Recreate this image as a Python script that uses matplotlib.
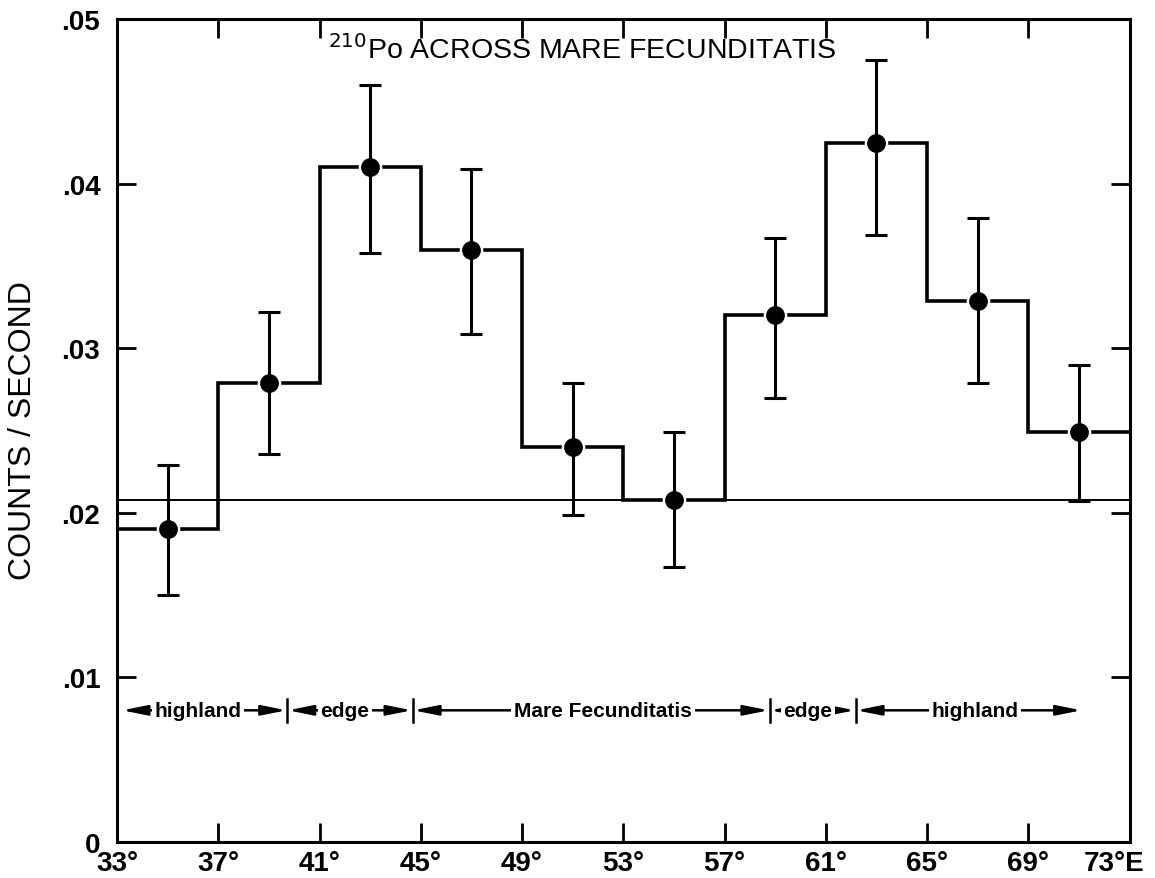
import numpy as np
import matplotlib
matplotlib.use("Agg")
import matplotlib.pyplot as plt
import matplotlib.transforms as mtransforms

plt.rcParams['font.family'] = ['Liberation Sans', 'DejaVu Sans']

# bins of longitude (deg E) and measured 210Po count rate
edges = [33, 37, 41, 45, 49, 53, 57, 61, 65, 69, 73]
centers = [35, 39, 43, 47, 51, 55, 59, 63, 67, 71]
counts = [0.0190, 0.0279, 0.0410, 0.0360, 0.0240, 0.0208, 0.0320, 0.0425, 0.0329, 0.0249]
err_low = [0.0150, 0.0236, 0.0358, 0.0309, 0.0199, 0.0167, 0.0270, 0.0369, 0.0279, 0.0207]
err_high = [0.0229, 0.0322, 0.0460, 0.0409, 0.0279, 0.0249, 0.0367, 0.0475, 0.0379, 0.0290]
background = 0.0208

xtick_vals = [33, 37, 41, 45, 49, 53, 57, 61, 65, 69, 73]
xtick_labels = ['33°', '37°', '41°', '45°', '49°', '53°', '57°', '61°', '65°', '69°', '73°E']
ytick_vals = [0, 0.01, 0.02, 0.03, 0.04, 0.05]
ytick_labels = ['0', '.01', '.02', '.03', '.04', '.05']

# region bar along the bottom
region_names = ['highland', 'edge', 'Mare Fecunditatis', 'edge', 'highland']
region_left = [33.2, 39.75, 44.7, 58.8, 62.2]
region_right = [39.7, 44.65, 58.75, 62.15, 71.1]
region_text_x = [36.2, 42.0, 52.2, 60.3, 66.9]
region_ticks = [39.72, 44.68, 58.78, 62.18]
region_y = 0.008

fig = plt.figure(figsize=(11.55, 8.79), dpi=100)
ax = fig.add_axes([0.1013, 0.041, 0.8767, 0.936])

# step histogram
ax.stairs(counts, edges, baseline=None, color='black', linewidth=2.6, zorder=2)
# background level
ax.axhline(background, color='black', linewidth=1.4, zorder=1)

# points with white halo, then error bars
yerr = [np.array(counts) - np.array(err_low), np.array(err_high) - np.array(counts)]
ax.plot(centers, counts, 'o', color='black', markersize=13,
        markeredgecolor='white', markeredgewidth=4, zorder=3)
ax.errorbar(centers, counts, yerr=yerr, fmt='o', color='black', markersize=12.5,
            elinewidth=2.2, capsize=8, capthick=2.2, zorder=4)

# region annotations
for name, l, r, tx in zip(region_names, region_left, region_right, region_text_x):
    ax.annotate('', xy=(l, region_y), xytext=(r, region_y),
                arrowprops=dict(arrowstyle='<|-|>,head_length=1.5,head_width=0.3',
                                color='black', lw=1.8, shrinkA=0, shrinkB=0))
    ax.text(tx, region_y, name, ha='center', va='center', fontsize=15,
            fontweight='bold', zorder=5,
            bbox=dict(facecolor='white', edgecolor='none', pad=2))
for t in region_ticks:
    ax.plot([t, t], [region_y - 0.0007, region_y + 0.0007], color='black', linewidth=1.8)

# title inside plot
ax.text(51.4, 0.0482, r'$^{210}$Po ACROSS MARE FECUNDITATIS', ha='center', va='center',
        fontsize=20.5)

ax.set_xlim(33, 73)
ax.set_ylim(0, 0.05)
ax.set_xticks(xtick_vals)
ax.set_xticklabels(xtick_labels)
ax.set_yticks(ytick_vals)
ax.set_yticklabels(ytick_labels)
ax.tick_params(direction='in', length=14, width=2, labelsize=20, top=True, right=True)
ax.tick_params(axis='x', pad=6)
ax.tick_params(axis='y', pad=12)
for lab in ax.get_xticklabels() + ax.get_yticklabels():
    lab.set_fontweight('bold')
# pull the last label in so it fits on the page
last = ax.get_xticklabels()[-1]
last.set_transform(last.get_transform() + mtransforms.ScaledTranslation(-16 / 100, 0, fig.dpi_scale_trans))
for s in ax.spines.values():
    s.set_linewidth(2.2)

fig.text(0.02, 0.51, 'COUNTS / SECOND', rotation=90, ha='center', va='center', fontsize=23)

fig.savefig('out.png', dpi=100)
